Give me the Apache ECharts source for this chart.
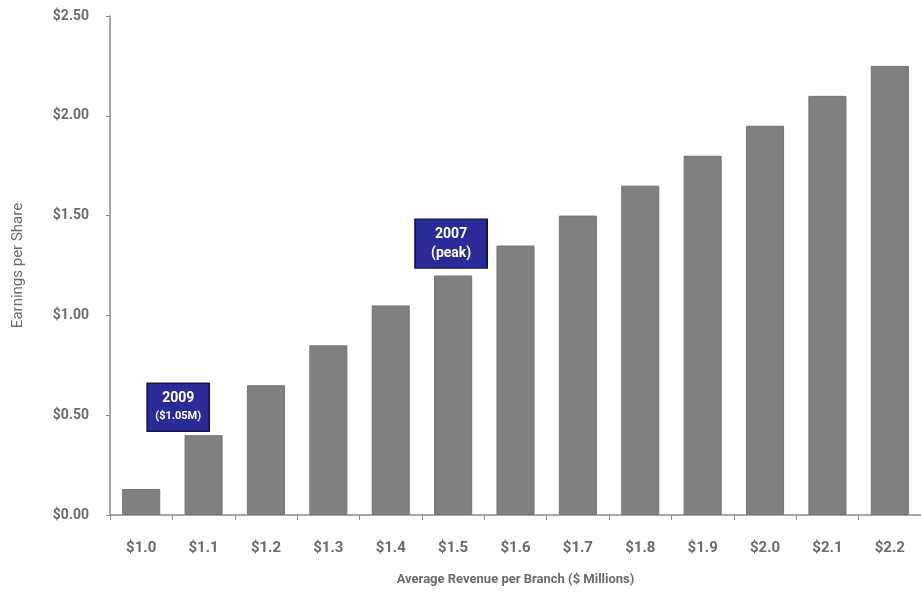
<!DOCTYPE html>
<html>
<head>
<meta charset="utf-8">
<script src="https://cdn.jsdelivr.net/npm/echarts@6/dist/echarts.min.js"></script>
<style>
  html, body { margin: 0; padding: 0; background: #ffffff; }
  #chart { width: 921px; height: 594px; }
</style>
</head>
<body>
<div id="chart"></div>
<script>
// Average revenue per branch ($ millions) and the matching earnings per share
const categories = ['$1.0', '$1.1', '$1.2', '$1.3', '$1.4', '$1.5', '$1.6', '$1.7', '$1.8', '$1.9', '$2.0', '$2.1', '$2.2'];
const epsValues = [0.13, 0.40, 0.65, 0.85, 1.05, 1.20, 1.35, 1.50, 1.65, 1.80, 1.95, 2.10, 2.25];
const yTicks = [0, 0.5, 1.0, 1.5, 2.0, 2.5];

// Callout boxes: anchor category, anchor value, horizontal shift, text
const callouts = [
  { cat: '$1.0', value: 0.54, shift: 37, text: '{y|2009}\n{s|($1.05M)}', size: [62, 48] },
  { cat: '$1.5', value: 1.36, shift: -2, text: '{y|2007}\n{y|(peak)}', size: [72, 49] }
];

const textColor = '#6b6b6b';
const fontFamily = 'Roboto, "DejaVu Sans", sans-serif';

const chart = echarts.init(document.getElementById('chart'), null, { renderer: 'canvas' });

chart.setOption({
  animation: false,
  backgroundColor: '#ffffff',
  grid: { left: 110, right: -8, top: 16, bottom: 79, containLabel: false },
  xAxis: {
    type: 'category',
    data: categories,
    name: 'Average Revenue per Branch ($ Millions)',
    nameLocation: 'middle',
    nameGap: 58,
    nameTextStyle: { color: textColor, fontFamily, fontSize: 13, fontWeight: 'bold' },
    axisLine: { lineStyle: { color: '#8a8a8a', width: 1.5 } },
    axisTick: { show: true, length: 5, lineStyle: { color: '#8a8a8a' } },
    axisLabel: { color: textColor, fontFamily, fontSize: 15, fontWeight: 'bold', margin: 26 }
  },
  yAxis: {
    type: 'value',
    min: 0,
    max: 2.5,
    interval: 0.5,
    name: 'Earnings per Share',
    nameLocation: 'middle',
    nameGap: 84,
    nameRotate: 90,
    nameTextStyle: { color: textColor, fontFamily, fontSize: 15, fontWeight: 'normal' },
    splitLine: { show: false },
    axisLine: { show: true, lineStyle: { color: '#8a8a8a', width: 1.5 } },
    axisTick: { show: true, length: 4, lineStyle: { color: '#8a8a8a' } },
    axisLabel: {
      color: textColor, fontFamily, fontSize: 14, fontWeight: 'bold', margin: 21,
      formatter: v => yTicks.includes(v) ? '$' + v.toFixed(2) : ''
    }
  },
  series: [{
    type: 'bar',
    data: epsValues,
    barWidth: '61%',
    itemStyle: { color: '#808080', borderColor: '#737373', borderWidth: 1 },
    markPoint: {
      symbol: 'rect',
      silent: true,
      data: callouts.map(c => ({
        coord: [c.cat, c.value],
        symbolSize: c.size,
        symbolOffset: [c.shift, 0],
        itemStyle: { color: '#2b2b98', borderColor: '#15154f', borderWidth: 1.5 },
        label: {
          show: true,
          position: 'inside',
          formatter: c.text,
          lineHeight: 19,
          rich: {
            y: { color: '#ffffff', fontFamily, fontSize: 14, fontWeight: 'bold', lineHeight: 19 },
            s: { color: '#ffffff', fontFamily, fontSize: 11, fontWeight: 'bold', lineHeight: 17 }
          }
        }
      }))
    }
  }]
});
</script>
</body>
</html>
